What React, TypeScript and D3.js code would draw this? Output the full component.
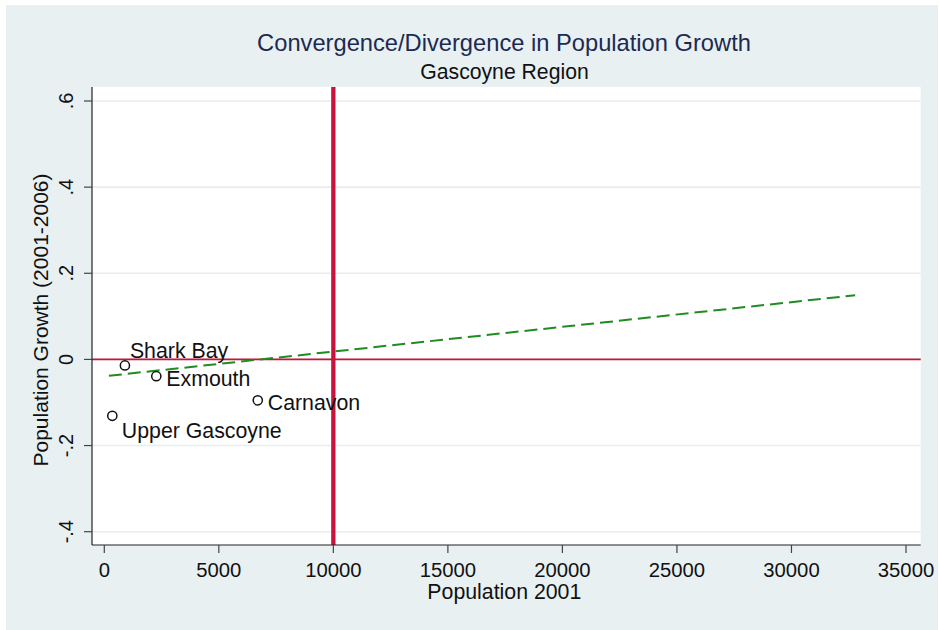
import React from "react";
import * as d3 from "d3";

const regions = ["Shark Bay", "Exmouth", "Carnavon", "Upper Gascoyne"];
const population2001 = [900, 2270, 6700, 350];
const growth = [-0.014, -0.039, -0.095, -0.131];
// label clock positions (Stata style)
const labelClock = [1, 4, 4, 5];

const fitX = [200, 32780];
const fitY = [-0.038, 0.149];

const xTicks = [0, 5000, 10000, 15000, 20000, 25000, 30000, 35000];
const yTicks = [-0.4, -0.2, 0, 0.2, 0.4, 0.6];
const yTickLabels = ["-.4", "-.2", "0", ".2", ".4", ".6"];

const refX = 10000;
const refY = 0;

const W = 939;
const H = 630;
const plot = { left: 92, right: 920.7, top: 87, bottom: 545 };
const FONT = "'Liberation Sans', Arial, Helvetica, sans-serif";

export default function App() {
  const x = d3.scaleLinear().domain([0, 35000]).range([104.3, 906]);
  const y = d3.scaleLinear().domain([-0.4, 0.6]).range([531.7, 101]);
  const line = d3
    .line<number>()
    .x((_, i) => x(fitX[i]))
    .y((d) => y(d));

  const labelOffset = (c: number): [number, number, string] => {
    switch (c) {
      case 1:
        return [5, -7.5, "start"];
      case 4:
        return [10, 9.5, "start"];
      case 5:
        return [9.5, 22.5, "start"];
      default:
        return [8, 7, "start"];
    }
  };

  return (
    <svg
      width={W}
      height={H}
      style={{ position: "absolute", left: 0, top: 0 }}
      fontFamily={FONT}
    >
      <rect x={0} y={0} width={W} height={H} fill="#ffffff" />
      <rect x={6} y={5} width={932} height={625} fill="#e8f0f2" />
      <rect
        x={plot.left}
        y={plot.top}
        width={plot.right - plot.left}
        height={plot.bottom - plot.top}
        fill="#ffffff"
      />
      {/* gridlines */}
      {yTicks.map((t) => (
        <line
          key={"g" + t}
          x1={plot.left}
          x2={plot.right}
          y1={y(t)}
          y2={y(t)}
          stroke="#e6eef0"
          strokeWidth={1.6}
        />
      ))}
      {/* reference lines */}
      <line
        x1={plot.left}
        x2={plot.right}
        y1={y(refY)}
        y2={y(refY)}
        stroke="#c8143c"
        strokeWidth={1.6}
      />
      <line
        x1={x(refX)}
        x2={x(refX)}
        y1={plot.top}
        y2={plot.bottom}
        stroke="#c8143c"
        strokeWidth={4.3}
      />
      {/* fitted line */}
      <path
        d={line(fitY) || ""}
        fill="none"
        stroke="#1e8c1e"
        strokeWidth={2}
        strokeDasharray="13,6"
      />
      {/* points */}
      {regions.map((r, i) => {
        const cx = x(population2001[i]);
        const cy = y(growth[i]);
        const [dx, dy, anchor] = labelOffset(labelClock[i]);
        return (
          <g key={r}>
            <circle cx={cx} cy={cy} r={4.6} fill="none" stroke="#111" strokeWidth={1.5} />
            <text x={cx + dx} y={cy + dy} fontSize={21.3} fill="#111" textAnchor={anchor}>
              {r}
            </text>
          </g>
        );
      })}
      {/* axes */}
      <line x1={plot.left} x2={plot.left} y1={plot.top} y2={plot.bottom} stroke="#222" strokeWidth={1.2} />
      <line x1={plot.left} x2={plot.right} y1={plot.bottom} y2={plot.bottom} stroke="#222" strokeWidth={1.2} />
      {yTicks.map((t, i) => (
        <g key={"y" + t}>
          <line x1={plot.left - 8} x2={plot.left} y1={y(t)} y2={y(t)} stroke="#444" strokeWidth={1.2} />
          <text
            transform={`translate(72.5,${y(t)}) rotate(-90)`}
            textAnchor="middle"
            fontSize={20}
            fill="#111"
          >
            {yTickLabels[i]}
          </text>
        </g>
      ))}
      {xTicks.map((t) => (
        <g key={"x" + t}>
          <line x1={x(t)} x2={x(t)} y1={plot.bottom} y2={plot.bottom + 8} stroke="#444" strokeWidth={1.2} />
          <text x={x(t)} y={577} textAnchor="middle" fontSize={20.3} fill="#111">
            {t}
          </text>
        </g>
      ))}
      <text x={(plot.left + plot.right) / 2 - 2} y={599} textAnchor="middle" fontSize={21.3} fill="#111">
        Population 2001
      </text>
      <text
        transform={`translate(48,${(plot.top + plot.bottom) / 2 + 4}) rotate(-90)`}
        textAnchor="middle"
        fontSize={21}
        fill="#111"
      >
        Population Growth (2001-2006)
      </text>
      <text x={504} y={51} textAnchor="middle" fontSize={23.7} fill="#1c2a52">
        Convergence/Divergence in Population Growth
      </text>
      <text x={504.5} y={79} textAnchor="middle" fontSize={21.2} fill="#111">
        Gascoyne Region
      </text>
    </svg>
  );
}
